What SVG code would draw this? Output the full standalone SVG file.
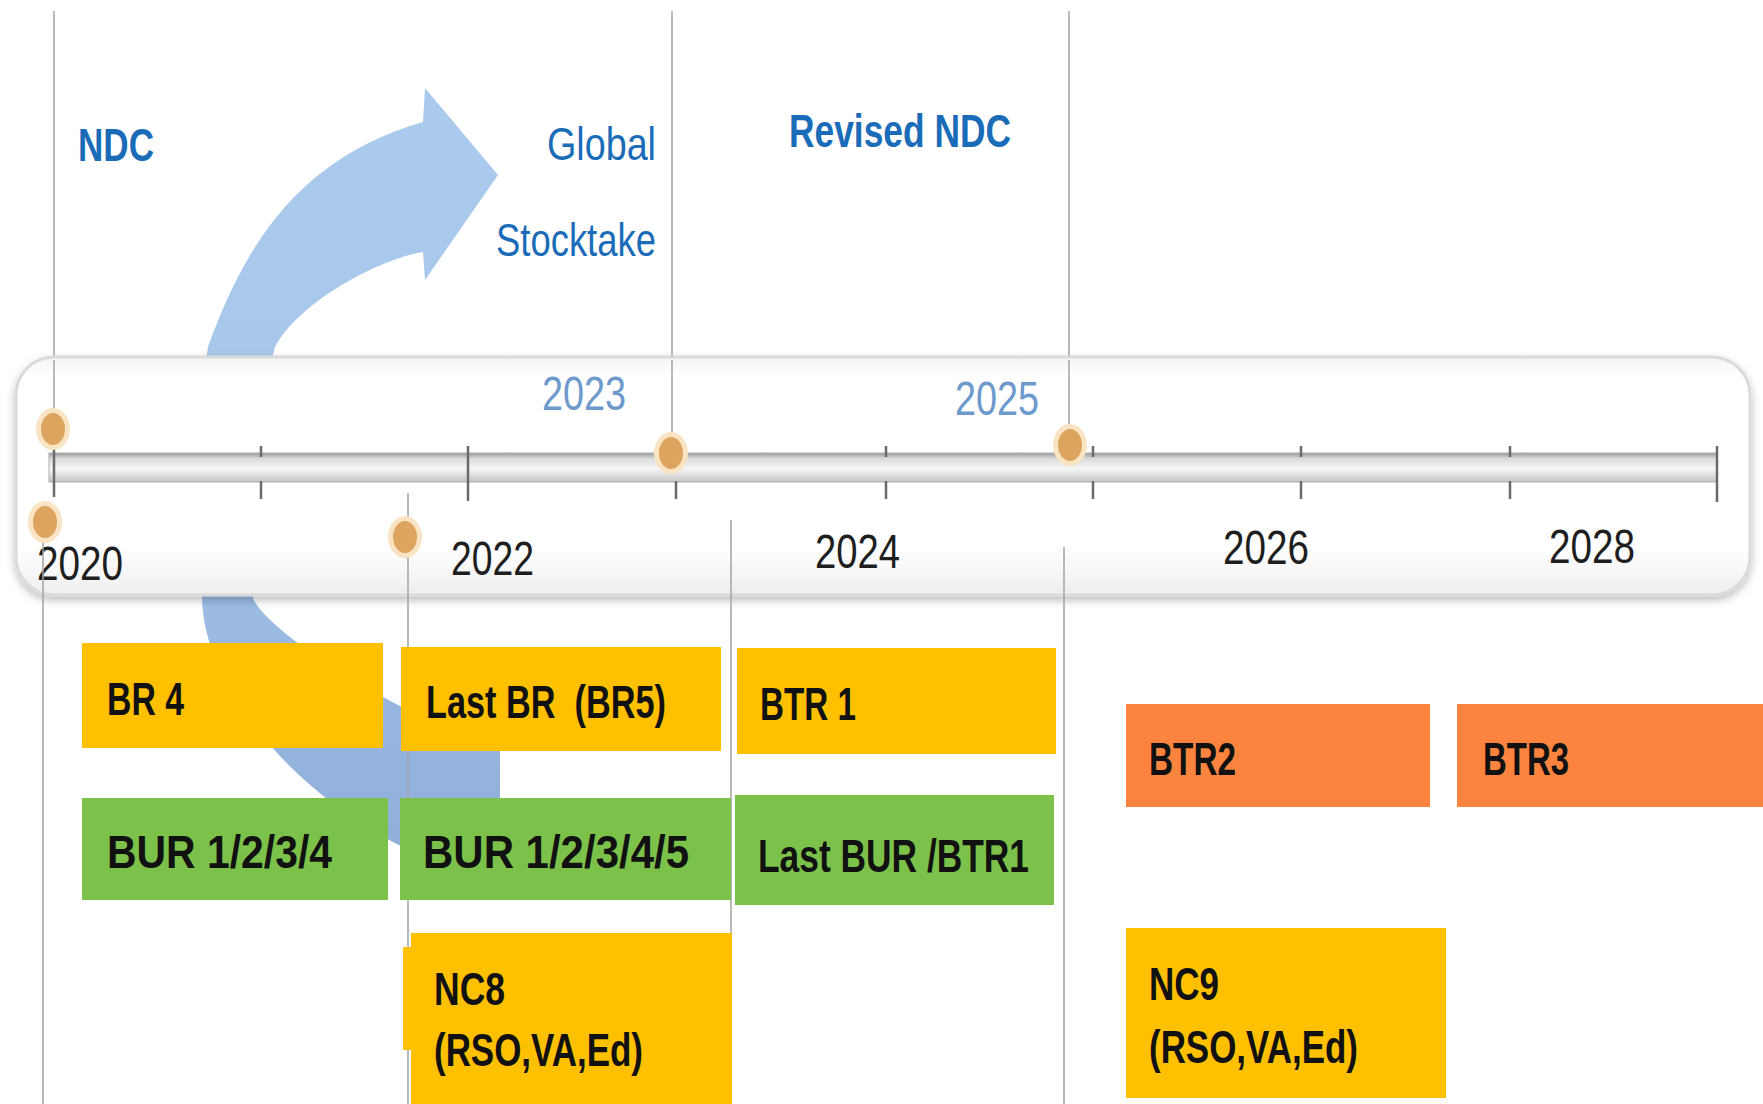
<svg xmlns="http://www.w3.org/2000/svg" width="1763" height="1104" viewBox="0 0 1763 1104">
<defs>
<linearGradient id="arrowGrad" gradientUnits="userSpaceOnUse" x1="0" y1="90" x2="0" y2="870">
<stop offset="0" stop-color="#abcbee"/>
<stop offset="0.4" stop-color="#a6c6ea"/>
<stop offset="1" stop-color="#8eaed9"/>
</linearGradient>
<linearGradient id="panelGrad" x1="0" y1="0" x2="0" y2="1">
<stop offset="0" stop-color="#f4f4f4"/>
<stop offset="0.08" stop-color="#ffffff"/>
<stop offset="0.8" stop-color="#ffffff"/>
<stop offset="1" stop-color="#eeeeee"/>
</linearGradient>
<linearGradient id="barGrad" x1="0" y1="0" x2="0" y2="1">
<stop offset="0" stop-color="#9a9a9a"/>
<stop offset="0.2" stop-color="#dcdcdc"/>
<stop offset="0.55" stop-color="#f6f6f6"/>
<stop offset="1" stop-color="#c4c4c4"/>
</linearGradient>
<filter id="shadow" x="-5%" y="-20%" width="110%" height="140%">
<feDropShadow dx="0" dy="4" stdDeviation="4" flood-color="#000" flood-opacity="0.25"/>
</filter>
<style>
.guide{stroke:#a3a3a3;stroke-width:1.5;fill:none}
.tick{stroke:#6a6a6a;stroke-width:2.5}
.yr{font-family:"Liberation Sans",Arial,sans-serif;font-size:48px;fill:#1e1e1e}
.yrb{font-family:"Liberation Sans",Arial,sans-serif;font-size:48px;fill:#6d9acd}
.top{font-family:"Liberation Sans",Arial,sans-serif;font-size:47px;fill:#1b6cb8}
.box{font-family:"Liberation Sans",Arial,sans-serif;font-size:46px;font-weight:bold;fill:#111}
.y{fill:#ffc000}
.g{fill:#7bc14a}
.o{fill:#fc843e}
.halo{fill:#f8e3c3}
.dot{fill:#dca45e}
</style>
</defs>
<rect width="1763" height="1104" fill="#ffffff"/>

<g id="cycle-arrow">
<path d="M 425 88 L 498 175 L 425 280 L 423 252 C 383 258, 300 300, 275 347 C 255 420, 245 520, 253 598 C 265 630, 400 720, 500 745 L 500 872 C 390 875, 205 730, 202 598 C 198 500, 195 420, 208 347 C 248 235, 306 156, 423 122 Z" fill="url(#arrowGrad)"/>
</g>

<g id="guides-top">
<line class="guide" x1="54" y1="11" x2="54" y2="450"/>
<line class="guide" x1="672" y1="11" x2="672" y2="450"/>
<line class="guide" x1="1069" y1="11" x2="1069" y2="440"/>
</g>

<g id="labels-top">
<text class="top" x="78" y="161" font-weight="bold" textLength="76" lengthAdjust="spacingAndGlyphs">NDC</text>
<text class="top" x="547" y="160" textLength="109" lengthAdjust="spacingAndGlyphs">Global</text>
<text class="top" x="496" y="256" textLength="160" lengthAdjust="spacingAndGlyphs">Stocktake</text>
<text class="top" x="789" y="147" font-weight="bold" textLength="222" lengthAdjust="spacingAndGlyphs">Revised NDC</text>
</g>

<g id="timeline">
<rect x="16" y="357" width="1734" height="238" rx="38" ry="38" fill="url(#panelGrad)" stroke="#dadada" stroke-width="3" filter="url(#shadow)"/>
<line class="guide" x1="54" y1="360" x2="54" y2="450"/>
<line class="guide" x1="672" y1="360" x2="672" y2="450"/>
<line class="guide" x1="1069" y1="360" x2="1069" y2="440"/>
<rect x="49" y="453" width="1668" height="29" fill="url(#barGrad)" stroke="#adadad" stroke-width="1"/>
<g id="ticks">
<line class="tick" x1="54" y1="445" x2="54" y2="497"/>
<line class="tick" x1="261" y1="446" x2="261" y2="457"/><line class="tick" x1="261" y1="481" x2="261" y2="499"/>
<line class="tick" x1="468" y1="446" x2="468" y2="501"/>
<line class="tick" x1="676" y1="446" x2="676" y2="457"/><line class="tick" x1="676" y1="481" x2="676" y2="499"/>
<line class="tick" x1="886" y1="446" x2="886" y2="457"/><line class="tick" x1="886" y1="481" x2="886" y2="499"/>
<line class="tick" x1="1093" y1="446" x2="1093" y2="457"/><line class="tick" x1="1093" y1="481" x2="1093" y2="499"/>
<line class="tick" x1="1301" y1="446" x2="1301" y2="457"/><line class="tick" x1="1301" y1="481" x2="1301" y2="499"/>
<line class="tick" x1="1510" y1="446" x2="1510" y2="457"/><line class="tick" x1="1510" y1="481" x2="1510" y2="499"/>
<line class="tick" x1="1717" y1="446" x2="1717" y2="502"/>
</g>
<text class="yr" x="37" y="580" textLength="86" lengthAdjust="spacingAndGlyphs">2020</text>
<text class="yr" x="451" y="575" textLength="83" lengthAdjust="spacingAndGlyphs">2022</text>
<text class="yr" x="815" y="568" textLength="85" lengthAdjust="spacingAndGlyphs">2024</text>
<text class="yr" x="1223" y="564" textLength="86" lengthAdjust="spacingAndGlyphs">2026</text>
<text class="yr" x="1549" y="563" textLength="86" lengthAdjust="spacingAndGlyphs">2028</text>
<text class="yrb" x="542" y="410" textLength="84" lengthAdjust="spacingAndGlyphs">2023</text>
<text class="yrb" x="955" y="415" textLength="84" lengthAdjust="spacingAndGlyphs">2025</text>
</g>

<g id="guides-bottom">
<line class="guide" x1="43" y1="530" x2="43" y2="1104"/>
<line class="guide" x1="408" y1="493" x2="408" y2="1104"/>
<line class="guide" x1="731" y1="520" x2="731" y2="1104"/>
<line class="guide" x1="1064" y1="547" x2="1064" y2="1104"/>
</g>

<g id="markers">
<ellipse class="halo" cx="53" cy="429" rx="17" ry="21"/><ellipse class="dot" cx="53" cy="429" rx="12" ry="16"/>
<ellipse class="halo" cx="45" cy="522" rx="17" ry="21"/><ellipse class="dot" cx="45" cy="522" rx="12" ry="16"/>
<ellipse class="halo" cx="405" cy="537" rx="17" ry="21"/><ellipse class="dot" cx="405" cy="537" rx="12" ry="16"/>
<ellipse class="halo" cx="671" cy="453" rx="17" ry="21"/><ellipse class="dot" cx="671" cy="453" rx="12" ry="16"/>
<ellipse class="halo" cx="1070" cy="445" rx="17" ry="21"/><ellipse class="dot" cx="1070" cy="445" rx="12" ry="16"/>
</g>

<g id="br4">
<rect class="y" x="82" y="643" width="301" height="105"/>
<text class="box" x="107" y="715" textLength="77" lengthAdjust="spacingAndGlyphs">BR 4</text>
</g>
<g id="last-br">
<rect class="y" x="401" y="647" width="320" height="104"/>
<text class="box" x="426" y="718" textLength="240" lengthAdjust="spacingAndGlyphs" xml:space="preserve">Last BR  (BR5)</text>
</g>
<g id="btr1">
<rect class="y" x="737" y="648" width="319" height="106"/>
<text class="box" x="760" y="720" textLength="96" lengthAdjust="spacingAndGlyphs">BTR 1</text>
</g>
<g id="btr2">
<rect class="o" x="1126" y="704" width="304" height="103"/>
<text class="box" x="1149" y="775" textLength="87" lengthAdjust="spacingAndGlyphs">BTR2</text>
</g>
<g id="btr3">
<rect class="o" x="1457" y="704" width="306" height="103"/>
<text class="box" x="1483" y="775" textLength="86" lengthAdjust="spacingAndGlyphs">BTR3</text>
</g>
<g id="bur1234">
<rect class="g" x="82" y="798" width="306" height="102"/>
<text class="box" x="107" y="868" textLength="225" lengthAdjust="spacingAndGlyphs">BUR 1/2/3/4</text>
</g>
<g id="bur12345">
<rect class="g" x="400" y="798" width="331" height="102"/>
<text class="box" x="423" y="868" textLength="266" lengthAdjust="spacingAndGlyphs">BUR 1/2/3/4/5</text>
</g>
<g id="last-bur">
<rect class="g" x="735" y="795" width="319" height="110"/>
<text class="box" x="758" y="872" textLength="271" lengthAdjust="spacingAndGlyphs">Last BUR /BTR1</text>
</g>
<g id="nc8">
<rect class="y" x="403" y="947" width="20" height="103"/>
<rect class="y" x="411" y="933" width="321" height="171"/>
<text class="box" x="434" y="1005" textLength="71" lengthAdjust="spacingAndGlyphs">NC8</text>
<text class="box" x="434" y="1066" textLength="209" lengthAdjust="spacingAndGlyphs">(RSO,VA,Ed)</text>
</g>
<g id="nc9">
<rect class="y" x="1126" y="928" width="320" height="170"/>
<text class="box" x="1149" y="1000" textLength="70" lengthAdjust="spacingAndGlyphs">NC9</text>
<text class="box" x="1149" y="1063" textLength="209" lengthAdjust="spacingAndGlyphs">(RSO,VA,Ed)</text>
</g>
</svg>
